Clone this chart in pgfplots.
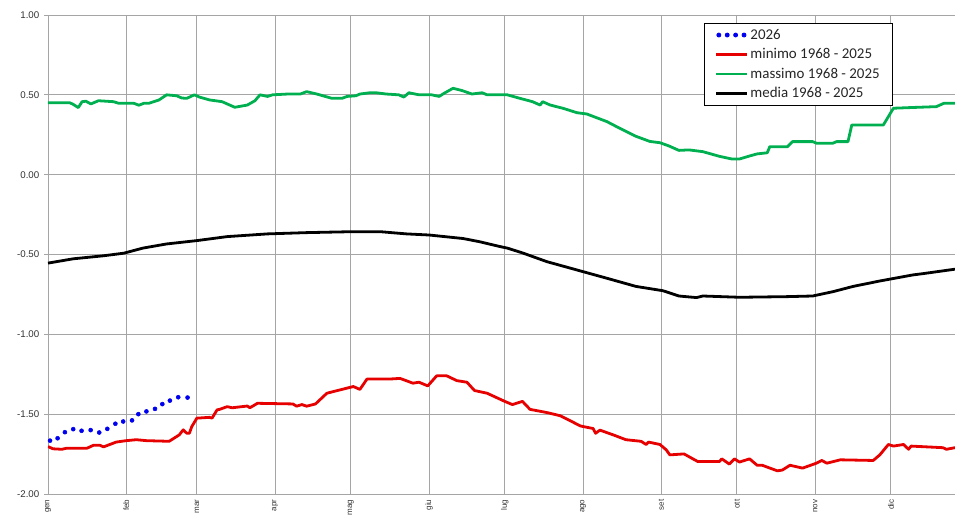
\documentclass[border=0pt]{standalone}
\usepackage{fontspec}
\setmainfont{Liberation Sans}
\newfontfamily\carlito{Carlito}
\usepackage{pgfplots}
\pgfplotsset{compat=1.18}
\usepackage{pgfplotstable}

\pgfplotstableread{
d v
0.8 -1.666
3.8 -1.651
6.7 -1.613
10 -1.594
13.3 -1.604
16.9 -1.600
20.3 -1.615
23.5 -1.592
26.7 -1.560
29.8 -1.546
33.3 -1.539
35.8 -1.500
39 -1.483
42.4 -1.467
45.3 -1.437
48.3 -1.415
51.6 -1.394
55.3 -1.396
}\tabA

\pgfplotstableread{
d v
0 -1.703
2 -1.717
5.5 -1.720
7.5 -1.713
15.5 -1.713
18 -1.695
20.6 -1.695
22 -1.705
27 -1.675
31 -1.666
35 -1.660
39 -1.666
48 -1.670
51 -1.640
52 -1.630
53.6 -1.598
55 -1.620
56 -1.620
57 -1.577
59 -1.525
64 -1.520
65 -1.525
67 -1.473
68 -1.470
71 -1.453
73 -1.460
79 -1.449
80 -1.460
83 -1.432
97 -1.436
98.5 -1.450
100.6 -1.440
102.5 -1.450
106 -1.436
110.5 -1.369
115.7 -1.348
121 -1.327
123.6 -1.345
126.4 -1.280
135.5 -1.280
139.5 -1.276
144.6 -1.306
147 -1.300
150.5 -1.323
154 -1.260
158 -1.260
162 -1.290
166 -1.300
169 -1.352
174 -1.369
181 -1.420
184 -1.440
188 -1.420
191 -1.470
197.7 -1.490
203 -1.510
211 -1.574
216 -1.590
217 -1.620
218.7 -1.600
224 -1.630
229 -1.660
235 -1.670
237 -1.690
238 -1.675
242.5 -1.690
245 -1.724
246.4 -1.755
252 -1.749
257.5 -1.797
266 -1.797
267 -1.780
270 -1.813
272 -1.780
274 -1.800
278 -1.780
281 -1.820
283 -1.820
289 -1.855
291 -1.850
294 -1.820
299 -1.838
304.5 -1.807
306.6 -1.790
308.6 -1.807
314 -1.786
327 -1.790
329.6 -1.755
333 -1.690
335 -1.700
339 -1.690
341 -1.720
342 -1.700
354.6 -1.710
356 -1.720
359.4 -1.710
}\tabMin

\pgfplotstableread{
d v
0 0.450
8.7 0.450
10 0.440
12 0.420
13.5 0.457
15 0.460
17 0.443
20 0.463
26 0.457
28 0.447
34 0.447
36 0.435
38 0.447
40 0.447
44 0.468
47 0.500
51 0.494
53 0.480
55 0.478
58 0.500
60 0.486
64 0.468
69 0.457
74 0.422
79 0.436
82 0.463
84 0.500
87 0.490
89 0.500
95 0.505
100 0.505
102.5 0.520
106.5 0.505
112.5 0.478
116.5 0.478
118.5 0.490
122 0.494
123.6 0.505
127.6 0.513
130 0.513
134 0.505
139 0.500
141 0.486
143 0.513
147 0.500
152 0.500
155 0.490
157 0.510
160.5 0.541
164 0.527
168 0.505
172 0.513
174 0.500
178 0.500
182 0.500
187 0.478
192 0.457
195 0.436
196 0.457
199 0.436
204 0.416
209.6 0.388
213.5 0.380
221.5 0.332
226.6 0.290
233 0.240
238.5 0.208
242.5 0.200
246 0.180
250 0.152
254 0.155
259.5 0.144
266 0.115
271 0.098
274 0.098
278 0.117
281 0.130
285 0.137
286 0.175
293 0.175
295 0.207
303 0.207
304.5 0.197
311 0.197
312.5 0.207
317 0.207
318.5 0.311
331 0.311
335 0.416
341.5 0.420
352 0.426
355 0.447
359.4 0.447
}\tabMax

\pgfplotstableread{
d v
0 -0.554
10 -0.527
22 -0.508
30 -0.492
37.6 -0.460
47 -0.434
59 -0.413
71 -0.388
87 -0.371
102.6 -0.363
121 -0.357
131.5 -0.357
142 -0.371
151 -0.378
164.5 -0.400
171 -0.420
179 -0.450
182 -0.460
188 -0.490
197.7 -0.545
209.6 -0.597
221.5 -0.649
233 -0.700
243.7 -0.727
250 -0.760
257 -0.770
259.5 -0.760
274 -0.768
292.8 -0.764
303 -0.760
311 -0.733
319 -0.700
329.6 -0.666
342.7 -0.628
346.7 -0.620
359.4 -0.592
}\tabMed

\definecolor{xred}{RGB}{230,0,0}
\definecolor{xgreen}{RGB}{0,176,80}
\definecolor{xblue}{RGB}{0,0,240}
\definecolor{xgrid}{RGB}{165,165,165}

\begin{document}
\begin{tikzpicture}
\begin{axis}[
  name=main,
  scale only axis,
  width=680.25pt, height=359.25pt,
  xmin=0, xmax=359.4, ymin=-2, ymax=1,
  axis x line*=bottom, axis y line*=left,
  axis line style={xgrid, line width=0.7pt, -},
  grid=major,
  grid style={xgrid, line width=0.7pt},
  ytick={-2,-1.5,-1,-0.5,0,0.5,1},
  /pgf/number format/fixed,
  /pgf/number format/fixed zerofill,
  /pgf/number format/precision=2,
  /pgf/number format/assume math mode=true,
  yticklabel style={font=\fontsize{7.3}{8}\selectfont, text=black!80},
  ytick style={xgrid, line width=0.7pt},
  tick align=outside,
  major tick length=3pt,
  xtick={0,31,59,90,120,151,181,212,243,273,304,334},
  xticklabels={gen,feb,mar,apr,mag,giu,lug,ago,set,ott,nov,dic},
  xtick style={draw=none},
  xticklabel style={rotate=90, anchor=east, inner sep=1pt, font=\fontsize{6}{7}\selectfont, text=black!80},
  legend cell align=left,
  legend style={at={(rel axis cs:0.7233,0.9833)}, anchor=north west,
    draw=black, line width=0.6pt, fill=white,
    font=\carlito\fontsize{11.2}{13}\selectfont, text=black!85,
    row sep=3pt, inner xsep=8pt, inner ysep=3pt,
    nodes={inner xsep=1.5pt, inner ysep=1.2pt}},
  legend image code/.code={\draw[#1, line width=2pt] (0pt,0pt) -- (23pt,0pt);},
]
\addplot[only marks, mark=*, mark size=1.5pt, color=xblue,
  legend image code/.code={\foreach \i in {0,1,2,3}{\fill[xblue] (\i*6.3pt+1.8pt,0pt) circle (1.5pt);}}]
  table[x=d, y=v] {\tabA};
\addlegendentry{2026}
\addplot[xred, line width=2.1pt, line join=round] table[x=d, y=v] {\tabMin};
\addlegendentry{minimo 1968 - 2025}
\addplot[xgreen, line width=2.1pt, line join=round] table[x=d, y=v] {\tabMax};
\addlegendentry{massimo 1968 - 2025}
\addplot[black, line width=2.1pt, line join=round] table[x=d, y=v] {\tabMed};
\addlegendentry{media 1968 - 2025}
\end{axis}
\pgfresetboundingbox
\path[use as bounding box] ([xshift=-36pt,yshift=-16.5pt]main.south west) rectangle ([yshift=11.25pt]main.north east);
\end{tikzpicture}
\end{document}
